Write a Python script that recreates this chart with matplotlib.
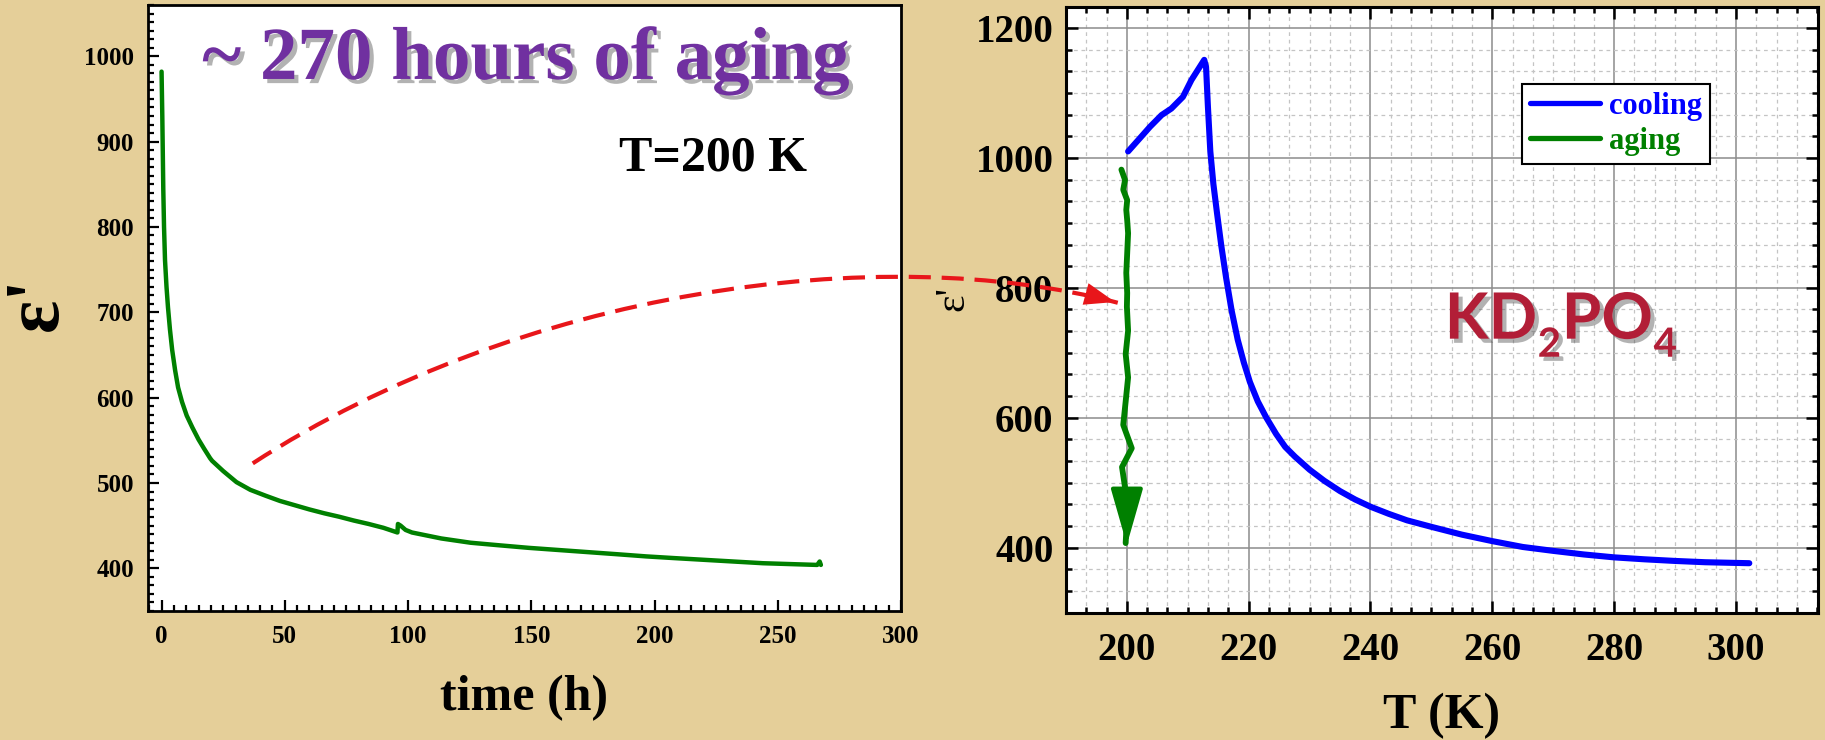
import numpy as np
import matplotlib
matplotlib.use("Agg")
import matplotlib.pyplot as plt
from matplotlib.ticker import MultipleLocator, AutoMinorLocator
from matplotlib.path import Path
from matplotlib.patches import PathPatch, FancyArrowPatch
from matplotlib.transforms import offset_copy
import matplotlib.patheffects as pe

# ---------------- data ----------------
aging_time = [0, 0.3, 0.7, 1.0, 1.4, 2.0, 2.6, 3.4, 4.3, 5.5, 6.7, 8.3, 10.2, 12.5, 15, 17.3,
              19.7, 20.5, 22, 25, 30.4, 36, 42.3, 48, 54, 60, 66, 72, 78, 84, 90, 95.7,
              95.9, 97, 99, 101.6, 113.5, 125.4, 137, 149, 161, 173, 185, 196.6, 208, 220,
              232, 244, 255, 266, 267, 267.5]
aging_eps = [982, 930, 844, 800, 761, 730, 706, 680, 656, 632, 612, 595, 579, 565, 551, 540,
             529, 526, 522, 514, 501, 492, 485, 479, 474, 469, 464.5, 460.5, 456, 452, 447.5, 442,
             452, 450, 445, 442, 435, 430, 427, 424, 421.5, 419, 416.5, 414, 412, 410,
             408, 406, 405, 404, 408, 404]

cooling_T = [302.2, 295, 290, 285, 280, 275, 270, 265, 260, 255, 250, 246, 243, 240, 237.5,
             235, 232.4, 230, 227.6, 226, 224.5, 222.9, 221.5, 220.2, 219.2, 218.2, 217.2,
             216.3, 215.5, 214.8, 214.2, 213.7, 213.3, 213.0, 212.7,
             210.6, 209.2, 207.3, 205.7, 203.8, 202.1, 200.2]
cooling_eps = [376, 377.5, 379.5, 382, 385, 389.5, 395, 401, 410, 420, 432, 442, 452, 463, 474,
               487, 503, 520, 540, 555, 575, 600, 625, 655, 685, 720, 765,
               815, 865, 915, 960, 1010, 1080, 1140, 1151,
               1120, 1094, 1076, 1066, 1048, 1030, 1010]

agingT_T = [199.1, 199.7, 199.4, 200.05, 199.9, 200.05, 200.2, 200.05, 199.9, 200.05, 200.0,
            200.2, 199.8, 200.2, 199.8, 199.4, 200.8, 199.2, 199.9, 200.0, 199.8]
agingT_eps = [982, 966, 951, 935, 920, 904, 884, 853, 823, 792, 771,
              734, 698, 662, 625, 589, 553, 524, 480, 444, 407]

left_xticks = [0, 50, 100, 150, 200, 250, 300]
left_yticks = [400, 500, 600, 700, 800, 900, 1000]
right_xticks = [200, 220, 240, 260, 280, 300]
right_yticks = [400, 600, 800, 1000, 1200]

# ---------------- style ----------------
BG = "#e5cf99"
GREEN = "#008000"
BLUE = "#0000ff"
RED = "#e8161a"
PURPLE = "#7030a0"
CRIMSON = "#b21e37"
SERIF = ["Liberation Serif", "DejaVu Serif"]

plt.rcParams["font.family"] = SERIF

fig = plt.figure(figsize=(18.25, 7.4), dpi=100, facecolor=BG)

axL = fig.add_axes([0.0811, 0.1743, 0.4126, 0.8189])
axR = fig.add_axes([0.5841, 0.1722, 0.4118, 0.8189])

# ---------------- left panel ----------------
axL.plot(aging_time, aging_eps, color=GREEN, lw=3.2, solid_capstyle="round",
         solid_joinstyle="round", zorder=3)
axL.set_xlim(-5.5, 300)
axL.set_ylim(350, 1060)
axL.set_xticks(left_xticks)
axL.set_yticks(left_yticks)
axL.xaxis.set_minor_locator(MultipleLocator(5))
axL.yaxis.set_minor_locator(MultipleLocator(10))
axL.tick_params(which="both", direction="in", top=False, right=False, width=1.6)
axL.tick_params(which="major", length=8, pad=10, labelsize=18)
axL.tick_params(which="minor", length=4)
for lab in axL.get_xticklabels() + axL.get_yticklabels():
    lab.set_fontweight("bold")
for sp in axL.spines.values():
    sp.set_linewidth(2)
axL.set_xlabel("time (h)", fontsize=36, fontweight="bold")
axL.xaxis.set_label_coords(0.5, -0.105)
axL.set_ylabel("ε'", fontsize=56, fontweight="bold")
axL.yaxis.set_label_coords(-0.098, 0.507)

shadow = [pe.SimplePatchShadow(offset=(3, -3), shadow_rgbFace="#555555", alpha=0.45), pe.Normal()]
axL.text(0.072, 0.878, "~ 270 hours of aging", transform=axL.transAxes, fontsize=54,
         fontweight="bold", color=PURPLE, ha="left", va="baseline", path_effects=shadow)
axL.text(0.625, 0.727, "T=200 K", transform=axL.transAxes, fontsize=36,
         fontweight="bold", color="black", ha="left", va="baseline")

# ---------------- right panel ----------------
axR.plot(cooling_T, cooling_eps, color=BLUE, lw=4.4, label="cooling", zorder=3,
         solid_joinstyle="round", solid_capstyle="round")
axR.plot(agingT_T, agingT_eps, color=GREEN, lw=4.2, label="aging", zorder=3,
         solid_joinstyle="round", solid_capstyle="round")
axR.annotate("", xy=(agingT_T[-1] + 0.2, 400), xytext=(agingT_T[-1] + 0.2, 470),
             arrowprops=dict(arrowstyle="-|>,head_length=3.5,head_width=1.0",
                             color=GREEN, lw=3, mutation_scale=10), zorder=4)
axR.set_xlim(190, 313.4)
axR.set_ylim(300, 1233)
axR.set_xticks(right_xticks)
axR.set_yticks(right_yticks)
axR.xaxis.set_minor_locator(AutoMinorLocator(6))
axR.yaxis.set_minor_locator(AutoMinorLocator(6))
axR.grid(which="major", color="#8c8c8c", lw=1.1, ls="-", zorder=0)
axR.grid(which="minor", color="#c4c4c4", lw=0.9, ls=(0, (3, 3)), zorder=0)
axR.set_axisbelow(True)
axR.tick_params(which="both", direction="in", top=True, right=True, width=1.8)
axR.tick_params(which="major", length=8.5, labelsize=28)
axR.tick_params(axis="y", which="major", pad=9)
axR.tick_params(axis="x", which="major", pad=14)
axR.tick_params(which="minor", length=4.5)
for lab in axR.get_xticklabels() + axR.get_yticklabels():
    lab.set_fontweight("bold")
for sp in axR.spines.values():
    sp.set_linewidth(2.2)
axR.set_xlabel("T (K)", fontsize=36, fontweight="bold")
axR.xaxis.set_label_coords(0.5, -0.132)
axR.set_ylabel("ε'", fontsize=30)
axR.yaxis.set_label_coords(-0.125, 0.518)

leg = axR.legend(loc="upper left", bbox_to_anchor=(0.607, 0.872), borderaxespad=0,
                 prop=dict(family=SERIF, weight="bold", size=22),
                 frameon=True, fancybox=False, edgecolor="black", framealpha=1,
                 handlelength=2.3, handletextpad=0.3, borderpad=0.25, labelspacing=0.2)
leg.get_frame().set_linewidth(1.5)
for txt, col in zip(leg.get_texts(), [BLUE, GREEN]):
    txt.set_color(col)
for ln in leg.get_lines():
    ln.set_linewidth(3.8)

# KD2PO4 built from pieces so the subscripts sit low like in the original
renderer = fig.canvas.get_renderer()
pieces = [("KD", 46, 0), ("2", 29, -13), ("PO", 46, 0), ("4", 29, -13)]
x_off = 0.0
for s, size, dy in pieces:
    tr = offset_copy(axR.transAxes, fig=fig, x=x_off, y=dy, units="points")
    t = axR.text(0.504, 0.452, s, transform=tr, fontsize=size, fontfamily="Lato",
                 fontweight="bold", color=CRIMSON, ha="left", va="baseline",
                 path_effects=shadow)
    w = t.get_window_extent(renderer).width
    x_off += w * 72.0 / fig.dpi + 0.5

# ---------------- red dashed connector arrow ----------------
to_fig = fig.transFigure.inverted()
p0 = to_fig.transform(axL.transData.transform((37, 523)))
p3 = to_fig.transform(axR.transData.transform((198.5, 777)))
c1 = (520 / 1825, 1 - 290 / 740)
c2 = (880 / 1825, 1 - 240 / 740)
path = Path([p0, c1, c2, p3], [Path.MOVETO, Path.CURVE4, Path.CURVE4, Path.CURVE4])
fig.add_artist(PathPatch(path, transform=fig.transFigure, fill=False, edgecolor=RED,
                         lw=3, linestyle=(0, (5.3, 2.6)), zorder=10))
head_from = (p3[0] - 22 / 1825, p3[1] + 6 / 740)
fig.add_artist(FancyArrowPatch(
    head_from, p3, transform=fig.transFigure, arrowstyle="-|>,head_length=2.2,head_width=0.8",
    mutation_scale=10, color=RED, lw=0, zorder=11))

fig.savefig("out.png", dpi=100, facecolor=BG)
